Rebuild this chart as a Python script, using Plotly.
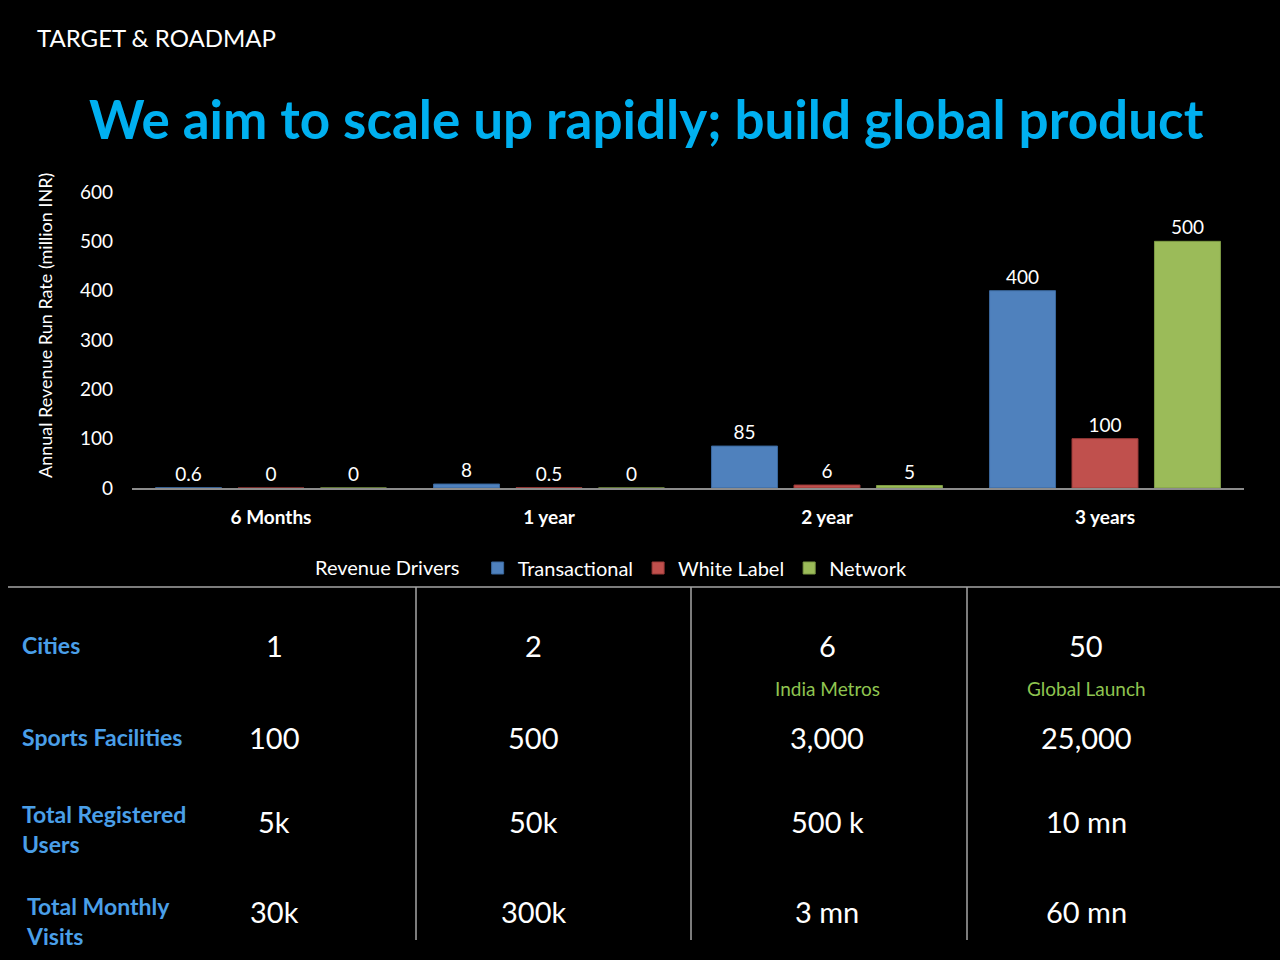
import plotly.graph_objects as go

# ---------------- data ----------------
categories = ["6 Months", "1 year", "2 year", "3 years"]
transactional = [0.6, 8, 85, 400]
white_label = [0, 0.5, 6, 100]
network = [0, 0, 5, 500]
series_names = ["Transactional", "White Label", "Network"]

y_ticks = [0, 100, 200, 300, 400, 500, 600]

row_labels = ["Cities", "Sports Facilities", "Total Registered<br>Users", "Total Monthly<br>Visits"]
cities = ["1", "2", "6", "50"]
facilities = ["100", "500", "3,000", "25,000"]
registered_users = ["5k", "50k", "500 k", "10 mn"]
monthly_visits = ["30k", "300k", "3 mn", "60 mn"]
city_notes = ["", "", "India Metros", "Global Launch"]

# ---------------- style ----------------
W, H = 1280, 960
FONT = "Lato"
BG = "#000000"
colors = ["#4f81bd", "#c0504d", "#9bbb59"]
edge = ["#3a679c", "#9c3b39", "#7d9a45"]
TITLE_C = "#00b0f0"
LABEL_C = "#4a9fe8"
NOTE_C = "#8fc450"
LINE_C = "#a6a6a6"

def px(x):
    return x / W

def py(y):
    return 1 - y / H

fig = go.Figure()
for name, vals, c, e in zip(series_names, [transactional, white_label, network], colors, edge):
    fig.add_trace(go.Bar(
        x=categories, y=vals, name=name,
        marker=dict(color=c, line=dict(color=e, width=1)),
        text=[f"{v:g}" for v in vals], textposition="outside",
        textfont=dict(color="#ffffff", size=19, family=FONT),
        cliponaxis=False,
    ))

fig.update_layout(
    width=W, height=H, autosize=False,
    margin=dict(l=0, r=0, t=0, b=0, pad=0, autoexpand=False),
    paper_bgcolor=BG, plot_bgcolor=BG,
    font=dict(family=FONT, color="#ffffff"),
    barmode="group", bargap=0.11, bargroupgap=0.2,
    showlegend=True,
    legend=dict(
        orientation="h", x=px(313), y=py(568), xanchor="left", yanchor="middle",
        title=dict(text="Revenue Drivers  ", font=dict(size=20, color="#ffffff", family=FONT), side="left"),
        font=dict(size=20, color="#ffffff", family=FONT),
        itemwidth=30, tracegroupgap=0, bgcolor="rgba(0,0,0,0)",
    ),
    xaxis=dict(
        domain=[px(132), px(1244)],
        showgrid=False, zeroline=False, automargin=False,
        showline=True, linecolor="#8c8c8c", linewidth=1.5,
        ticks="", tickfont=dict(size=19, color="#ffffff", family=FONT, weight="bold"),
        ticklabelstandoff=11,
        anchor="y",
    ),
    yaxis=dict(
        domain=[py(488), py(192)],
        range=[0, 600], tickvals=y_ticks, automargin=False,
        showgrid=False, zeroline=False, showline=False,
        tickfont=dict(size=19, color="#ffffff", family=FONT),
        ticklabelstandoff=18,
    ),
)

annotations = []
# top-left section label
annotations.append(dict(text="TARGET & ROADMAP", x=px(35), y=py(37), xref="paper", yref="paper",
                        xanchor="left", yanchor="middle", showarrow=False,
                        font=dict(size=24, color="#ffffff", family=FONT)))
# main title
annotations.append(dict(text="<b>We aim to scale up rapidly; build global product</b>", x=px(646), y=py(118),
                        xref="paper", yref="paper", xanchor="center", yanchor="middle", showarrow=False,
                        font=dict(size=53, color=TITLE_C, family=FONT)))
# y axis title
annotations.append(dict(text="Annual Revenue Run Rate (million INR)", x=px(45), y=py(326),
                        xref="paper", yref="paper", xanchor="center", yanchor="middle", showarrow=False,
                        textangle=-90, font=dict(size=18, color="#ffffff", family=FONT)))

# ---------------- table ----------------
col_x = [274, 533, 827, 1086]
row_y = [645, 737, 821, 911]
label_y = [645, 737, 829, 921]
label_x = [20, 20, 20, 24]
table_rows = [cities, facilities, registered_users, monthly_visits]

for lbl, lx, ly in zip(row_labels, label_x, label_y):
    annotations.append(dict(text=f"<b>{lbl}</b>", x=px(lx), y=py(ly), xref="paper", yref="paper",
                            xanchor="left", yanchor="middle", align="left", showarrow=False,
                            font=dict(size=23, color=LABEL_C, family=FONT)))
for vals, ry in zip(table_rows, row_y):
    for v, cx in zip(vals, col_x):
        annotations.append(dict(text=v, x=px(cx), y=py(ry), xref="paper", yref="paper",
                                xanchor="center", yanchor="middle", showarrow=False,
                                font=dict(size=29, color="#ffffff", family=FONT)))
for note, cx in zip(city_notes, col_x):
    if note:
        annotations.append(dict(text=note, x=px(cx), y=py(688), xref="paper", yref="paper",
                                xanchor="center", yanchor="middle", showarrow=False,
                                font=dict(size=19, color=NOTE_C, family=FONT)))

shapes = [dict(type="line", xref="paper", yref="paper", x0=px(8), x1=1, y0=py(587), y1=py(587),
               line=dict(color=LINE_C, width=1.5))]
for vx in [416, 691, 967]:
    shapes.append(dict(type="line", xref="paper", yref="paper", x0=px(vx), x1=px(vx),
                       y0=py(587), y1=py(940), line=dict(color=LINE_C, width=1.5)))

fig.update_layout(annotations=annotations, shapes=shapes)
fig.write_html(
    "out.html",
    config={"displayModeBar": False},
    post_script="document.body.style.margin='0';document.body.style.background='#000';"
                "document.body.style.overflow='hidden';",
)
